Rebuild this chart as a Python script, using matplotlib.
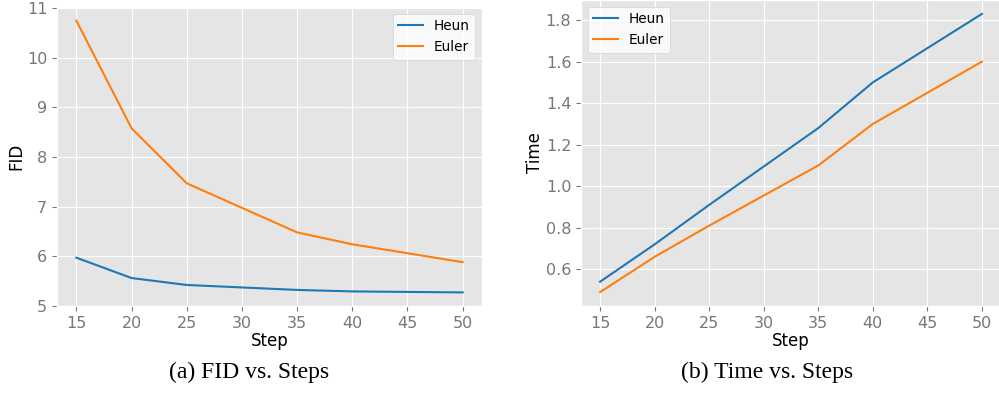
import matplotlib
matplotlib.use("Agg")
from matplotlib import pyplot as plt

plt.style.use("ggplot")

steps = [15, 20, 25, 35, 40, 50]
fid_heun = [5.97, 5.56, 5.42, 5.32, 5.29, 5.27]
fid_euler = [10.75, 8.58, 7.47, 6.48, 6.24, 5.88]
time_heun = [0.54, 0.72, 0.91, 1.28, 1.50, 1.83]
time_euler = [0.49, 0.66, 0.81, 1.10, 1.30, 1.60]

fig = plt.figure(figsize=(9.99, 3.98), dpi=100)
fig.patch.set_facecolor("white")

ax1 = fig.add_axes([57 / 999, 92 / 398, 425 / 999, 299 / 398])
ax2 = fig.add_axes([581 / 999, 92 / 398, 420 / 999, 306 / 398])

for ax in (ax1, ax2):
    ax.tick_params(labelsize=11.5, colors="#777777", labelcolor="#777777")
    ax.set_xlabel("Step", fontsize=12, color="black", labelpad=1)

ax1.plot(steps, fid_heun, color="#1f77b4", lw=1.5, label="Heun")
ax1.plot(steps, fid_euler, color="#ff7f0e", lw=1.5, label="Euler")
ax1.set_ylabel("FID", fontsize=12, color="black", labelpad=1)
ax1.set_yticks([5, 6, 7, 8, 9, 10, 11])
ax1.legend(loc="upper right", fontsize=9.8, facecolor="white", framealpha=0.8,
           handlelength=1.8)

ax2.plot(steps, time_heun, color="#1f77b4", lw=1.5, label="Heun")
ax2.plot(steps, time_euler, color="#ff7f0e", lw=1.5, label="Euler")
ax2.set_ylabel("Time", fontsize=12, color="black", labelpad=1)
ax2.legend(loc="upper left", fontsize=9.8, facecolor="white", framealpha=0.8,
           handlelength=1.8)

fig.text(249 / 999, 1 - 372 / 398, "(a) FID vs. Steps", ha="center", va="center",
         fontsize=17, family="Liberation Serif")
fig.text(767 / 999, 1 - 372 / 398, "(b) Time vs. Steps", ha="center", va="center",
         fontsize=17, family="Liberation Serif")

fig.savefig("out.png", dpi=100)
